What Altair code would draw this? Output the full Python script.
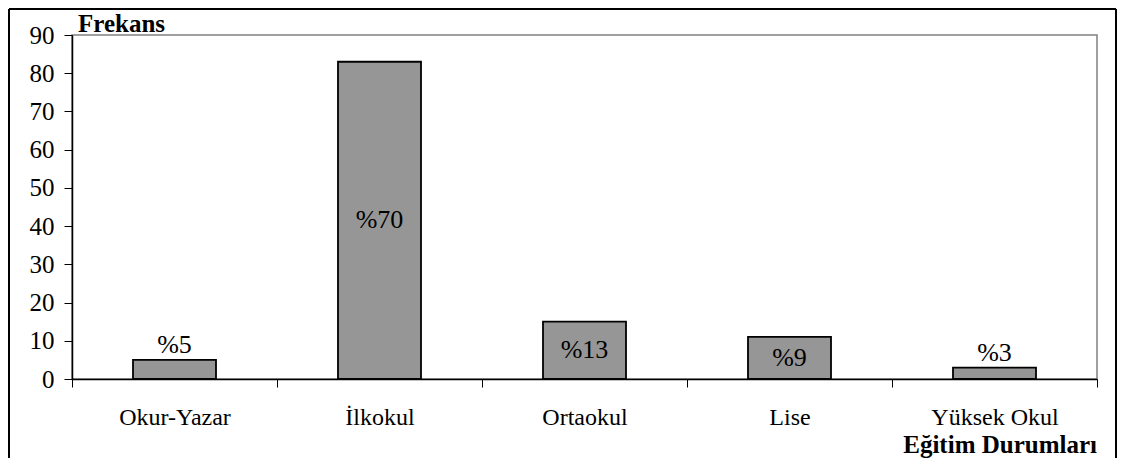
import altair as alt
import pandas as pd

categories = ["Okur-Yazar", "İlkokul", "Ortaokul", "Lise", "Yüksek Okul"]
frequencies = [5, 83, 15, 11, 3]
percent_labels = ["%5", "%70", "%13", "%9", "%3"]
y_ticks = [0, 10, 20, 30, 40, 50, 60, 70, 80, 90]
y_title = "Frekans"
x_title = "Eğitim Durumları"

FONT = "Liberation Serif"
W, H = 1025, 344
PAD = {"left": 64, "top": 27, "right": 21, "bottom": 79}

df = pd.DataFrame({"cat": categories, "freq": frequencies, "pct": percent_labels})
one = pd.DataFrame({"a": [0]})

x_axis = alt.Axis(labelAngle=0, tickBand="extent", tickSize=8, labelPadding=18,
                  labelFontSize=24, grid=False)
y_axis = alt.Axis(values=y_ticks, grid=False, tickSize=8, labelPadding=10, labelFontSize=25)

x_enc = alt.X("cat:N", sort=categories, title=None,
              scale=alt.Scale(paddingInner=0, paddingOuter=0), axis=x_axis)
y_enc = alt.Y("freq:Q", title=None, scale=alt.Scale(domain=[0, 90], nice=False), axis=y_axis)

bars = alt.Chart(df).mark_bar(size=83, color="#969696", stroke="black", strokeWidth=1.8).encode(
    x=x_enc, y=y_enc
)

inside = alt.Chart(df).transform_filter("datum.freq >= 10").transform_calculate(
    mid="datum.freq / 2"
).mark_text(font=FONT, fontSize=26, baseline="middle", color="black").encode(
    x=alt.X("cat:N", sort=categories, title=None, axis=x_axis),
    y=alt.Y("mid:Q", title=None, axis=y_axis),
    text="pct:N",
)

outside = alt.Chart(df).transform_filter("datum.freq < 10").mark_text(
    font=FONT, fontSize=26, baseline="bottom", dy=-2, color="black"
).encode(
    x=alt.X("cat:N", sort=categories, title=None, axis=x_axis),
    y=alt.Y("freq:Q", title=None, axis=y_axis),
    text="pct:N",
)

ytitle = alt.Chart(one).mark_text(
    font=FONT, fontSize=25, fontWeight="bold", align="left", baseline="alphabetic", color="black"
).encode(x=alt.value(6), y=alt.value(-3), text=alt.value(y_title))

xtitle = alt.Chart(one).mark_text(
    font=FONT, fontSize=25, fontWeight="bold", align="right", baseline="alphabetic", color="black"
).encode(x=alt.value(W), y=alt.value(418), text=alt.value(x_title))

frame_style = dict(color="black", strokeWidth=2)
left_rule = alt.Chart(one).mark_rule(**frame_style).encode(
    x=alt.value(-63), y=alt.value(-26), y2=alt.value(H + PAD["bottom"])
)
top_rule = alt.Chart(one).mark_rule(**frame_style).encode(
    x=alt.value(-63), x2=alt.value(W + PAD["right"] - 2), y=alt.value(-26)
)
right_rule = alt.Chart(one).mark_rule(**frame_style).encode(
    x=alt.value(W + PAD["right"] - 2), y=alt.value(-26), y2=alt.value(H + PAD["bottom"])
)

chart = alt.layer(
    bars, inside, outside, ytitle, xtitle, left_rule, top_rule, right_rule
).properties(
    width=W, height=H,
    autosize=alt.AutoSizeParams(type="none"),
    padding=PAD,
    background="white",
).configure_view(
    stroke="#808080", strokeWidth=1.5
).configure_axis(
    domainColor="black", domainWidth=1.5, tickColor="black", tickWidth=1,
    labelFont=FONT, labelColor="black", grid=False
)

chart.save("out.html", embed_options={"renderer": "svg", "actions": False})
